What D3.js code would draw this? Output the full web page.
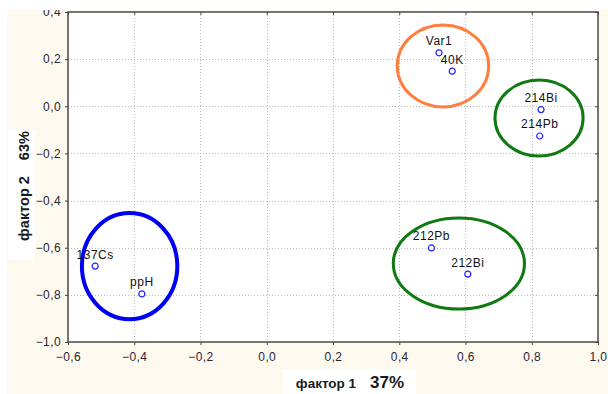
<!DOCTYPE html>
<html>
<head>
<meta charset="utf-8">
<script src="https://cdn.jsdelivr.net/npm/d3@7"></script>
<style>
  html, body { margin: 0; padding: 0; background: #ffffff; }
  svg { display: block; font-family: Arial, "Liberation Sans", sans-serif; }
</style>
</head>
<body>
<svg id="chart" width="608" height="394"></svg>
<script>
// Factor loadings (factor 1, factor 2) for each variable
const variables = ["Var1", "40K", "214Bi", "214Pb", "137Cs", "ppH", "212Pb", "212Bi"];
const factor1 = [0.52, 0.56, 0.828, 0.824, -0.518, -0.377, 0.497, 0.607];
const factor2 = [0.227, 0.149, -0.014, -0.126, -0.678, -0.796, -0.601, -0.712];

// Tick values on both axes
const xTicks = [-0.6, -0.4, -0.2, 0.0, 0.2, 0.4, 0.6, 0.8, 1.0];
const yTicks = [-1.0, -0.8, -0.6, -0.4, -0.2, 0.0, 0.2, 0.4];

// Groups of variables outlined with ellipses (centre and radii in factor units)
const groupNames = ["K", "Bi-Pb 214", "Cs-pH", "Bi-Pb 212"];
const groupCx = [0.532, 0.822, -0.414, 0.580];
const groupCy = [0.171, -0.050, -0.678, -0.667];
const groupRx = [0.138, 0.133, 0.144, 0.198];
const groupRy = [0.174, 0.161, 0.225, 0.193];
const groupColors = ["#ff7f3f", "#0f7a12", "#0000f5", "#0f7a12"];
const groupWidths = [3, 3, 4, 3];

const svg = d3.select("#chart");
const W = 608, H = 394;
const plot = { left: 68, right: 598, top: 12, bottom: 342 };

const x = d3.scaleLinear().domain([-0.6, 1.0]).range([plot.left, plot.right]);
const y = d3.scaleLinear().domain([-1.0, 0.4]).range([plot.bottom, plot.top]);
const fmt = v => d3.format(".1f")(Math.abs(v) < 1e-9 ? 0 : v).replace(".", ",");

// Page background
svg.append("rect").attr("x", 7).attr("y", 10).attr("width", W - 7).attr("height", H - 10)
  .attr("fill", "#fef9ee");
svg.append("rect").attr("x", plot.left).attr("y", plot.top)
  .attr("width", plot.right - plot.left).attr("height", plot.bottom - plot.top)
  .attr("fill", "#ffffff");

// Dotted grid
const grid = svg.append("g").attr("stroke", "#bdbdbd").attr("stroke-width", 1)
  .attr("stroke-dasharray", "1,2");
grid.selectAll("line.gx").data(xTicks.slice(1, -1)).join("line")
  .attr("x1", d => Math.round(x(d)) + 0.5).attr("x2", d => Math.round(x(d)) + 0.5)
  .attr("y1", plot.top).attr("y2", plot.bottom);
grid.selectAll("line.gy").data(yTicks.slice(1, -1)).join("line")
  .attr("y1", d => Math.round(y(d)) + 0.5).attr("y2", d => Math.round(y(d)) + 0.5)
  .attr("x1", plot.left).attr("x2", plot.right);

// Axes: ticks labelled on left and bottom, bare ticks on top and right
const axisBottom = d3.axisBottom(x).tickValues(xTicks).tickFormat(fmt).tickSize(3).tickPadding(7);
const axisLeft = d3.axisLeft(y).tickValues(yTicks).tickFormat(fmt).tickSize(3).tickPadding(4);
const axisTop = d3.axisBottom(x).tickValues(xTicks).tickFormat("").tickSize(3);
const axisRight = d3.axisLeft(y).tickValues(yTicks).tickFormat("").tickSize(3);

function styleAxis(g) {
  g.select(".domain").remove();
  g.selectAll(".tick line").attr("stroke", "#444");
  g.selectAll(".tick text").attr("fill", "#262636").attr("font-size", 12)
    .attr("letter-spacing", 0.4)
    .attr("font-family", "Arial, 'Liberation Sans', sans-serif");
}
svg.append("g").attr("transform", `translate(0,${plot.bottom})`).call(axisBottom).call(styleAxis);
svg.append("g").attr("transform", `translate(${plot.left},0)`).call(axisLeft).call(styleAxis);
svg.append("g").attr("transform", `translate(0,${plot.top})`).call(axisTop).call(styleAxis);
svg.append("g").attr("transform", `translate(${plot.right},0)`).call(axisRight).call(styleAxis);

// Frame
svg.append("rect").attr("x", plot.left).attr("y", plot.top)
  .attr("width", plot.right - plot.left).attr("height", plot.bottom - plot.top)
  .attr("fill", "none").attr("stroke", "#4a4a4a").attr("stroke-width", 1.5);

// Group ellipses
svg.append("g").selectAll("ellipse").data(groupNames).join("ellipse")
  .attr("cx", (d, i) => x(groupCx[i]))
  .attr("cy", (d, i) => y(groupCy[i]))
  .attr("rx", (d, i) => x(groupCx[i] + groupRx[i]) - x(groupCx[i]))
  .attr("ry", (d, i) => y(groupCy[i]) - y(groupCy[i] + groupRy[i]))
  .attr("fill", "none")
  .attr("stroke", (d, i) => groupColors[i])
  .attr("stroke-width", (d, i) => groupWidths[i]);

// Variable points and labels
const pts = svg.append("g").selectAll("g").data(variables).join("g")
  .attr("transform", (d, i) => `translate(${x(factor1[i])},${y(factor2[i])})`);
pts.append("circle").attr("r", 3).attr("fill", "#ffffff")
  .attr("stroke", "#2020ff").attr("stroke-width", 1.2);
pts.append("text").text(d => d).attr("y", -7.5).attr("text-anchor", "middle")
  .attr("font-size", 12).attr("letter-spacing", 0.5).attr("fill", "#111");

// Axis titles on white boxes
const xt = svg.append("g");
xt.append("rect").attr("x", 283).attr("y", 369).attr("width", 133).attr("height", 25).attr("fill", "#ffffff");
const xtext = xt.append("text").attr("x", 350).attr("y", 388).attr("text-anchor", "middle")
  .attr("font-weight", "bold").attr("fill", "#1a1a1a");
xtext.append("tspan").attr("font-size", 13.5).text("фактор 1");
xtext.append("tspan").attr("font-size", 17).attr("dx", 14).text("37%");

const yt = svg.append("g").attr("transform", "translate(29,186) rotate(-90)");
yt.append("rect").attr("x", -74).attr("y", -21).attr("width", 130).attr("height", 27).attr("fill", "#ffffff");
const ytext = yt.append("text").attr("x", 0).attr("y", 0).attr("text-anchor", "middle")
  .attr("font-weight", "bold").attr("fill", "#1a1a1a");
ytext.append("tspan").attr("font-size", 14.5).text("фактор 2");
ytext.append("tspan").attr("font-size", 14.5).attr("dx", 16).text("63%");

// White margin strips along the top and left edges
svg.append("rect").attr("x", 0).attr("y", 0).attr("width", W).attr("height", 10).attr("fill", "#ffffff");
svg.append("rect").attr("x", 0).attr("y", 0).attr("width", 7).attr("height", H).attr("fill", "#ffffff");
</script>
</body>
</html>
